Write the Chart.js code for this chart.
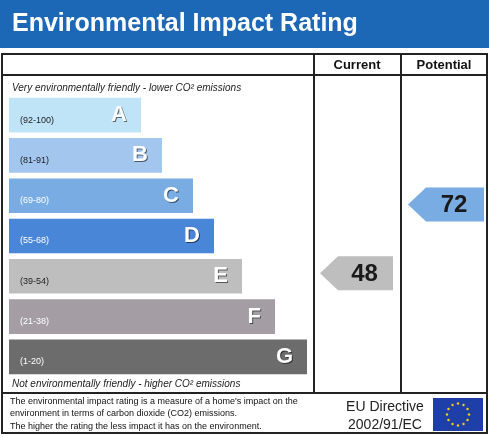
<!DOCTYPE html>
<html><head><meta charset="utf-8">
<script src="https://cdn.jsdelivr.net/npm/chart.js@4"></script>
<style>html,body{margin:0;padding:0;background:#fff}#c{display:block}</style>
</head><body>
<div style="width:489px;height:437px"><canvas id="c" width="489" height="437"></canvas></div>
<script>
const bands = ['A','B','C','D','E','F','G'];
const ranges = ['(92-100)','(81-91)','(69-80)','(55-68)','(39-54)','(21-38)','(1-20)'];
const rangeLow = [92,81,69,55,39,21,1];
const rangeHigh = [100,91,80,68,54,38,20];
const bandLengths = [132,153,184,205,233,266,298];
const colors = ['#bfe4f8','#a2c6ee','#79ace3','#4a86d8','#bebebe','#a49ea4','#6c6c6c'];
const rangeColors = ['#222','#222','#fff','#fff','#222','#fff','#fff'];
const currentRating = 48;
const potentialRating = 72;
const title = 'Environmental Impact Rating';

function bandOf(v){return rangeLow.findIndex((lo,i)=>v>=lo&&v<=rangeHigh[i]);}

const deco = {
  id:'deco',
  beforeDraw(ch){
    const c=ch.ctx;
    c.save();
    c.fillStyle='#fff';c.fillRect(0,0,489,437);
    c.fillStyle='#1d68b6';c.fillRect(0,0,489,48);
    c.fillStyle='#fff';c.font='bold 25px "Liberation Sans", Arial';c.textBaseline='middle';
    c.fillText(title,12,24);
    c.strokeStyle='#222';c.lineWidth=2;
    c.strokeRect(2,54,485,379);
    c.beginPath();
    c.moveTo(2,75);c.lineTo(487,75);
    c.moveTo(2,393);c.lineTo(487,393);
    c.moveTo(314,54);c.lineTo(314,393);
    c.moveTo(401,54);c.lineTo(401,393);
    c.stroke();
    c.fillStyle='#111';c.font='bold 13px "Liberation Sans", Arial';c.textAlign='center';
    c.fillText('Current',357,65);c.fillText('Potential',444,65);
    c.textAlign='left';c.font='italic 10px "Liberation Sans", Arial';c.fillStyle='#222';
    c.fillText('Very environmentally friendly - lower CO\u00b2 emissions',12,88);
    c.fillText('Not environmentally friendly - higher CO\u00b2 emissions',12,384);
    c.font='9px "Liberation Sans", Arial';c.fillStyle='#111';
    c.fillText("The environmental impact rating is a measure of a home's impact on the",10,402);
    c.fillText('environment in terms of carbon dioxide (CO2) emissions.',10,414);
    c.fillText('The higher the rating the less impact it has on the environment.',10,427);
    c.font='14px "Liberation Sans", Arial';c.fillStyle='#222';c.textAlign='center';
    c.fillText('EU Directive',385,407);c.fillText('2002/91/EC',385,425);
    c.fillStyle='#1f3fa8';c.fillRect(433,398,50,33);
    c.fillStyle='#f5d200';
    for(let i=0;i<12;i++){const a=i*Math.PI/6;c.beginPath();c.arc(458+Math.cos(a)*11,414.5+Math.sin(a)*11,1.2,0,7);c.fill();}
    c.restore();
  },
  afterDatasetsDraw(ch){
    const c=ch.ctx, meta=ch.getDatasetMeta(0), ys=ch.scales.y;
    c.save();c.textBaseline='middle';
    meta.data.forEach((b,i)=>{
      c.font='9px "Liberation Sans", Arial';c.fillStyle=rangeColors[i];c.textAlign='left';
      c.fillText(ranges[i],20,b.y+5);
      c.font='bold 22px "Liberation Sans", Arial';c.textAlign='right';
      c.fillStyle='rgba(0,0,0,0.55)';c.fillText(bands[i],b.x-13,b.y+1);
      c.fillStyle='#fff';c.fillText(bands[i],b.x-14,b.y);
    });
    function arrow(x0,x1,v,col){
      const i=bandOf(v);
      const pos=i+(rangeHigh[i]-v)/(rangeHigh[i]-rangeLow[i]+1)-0.5+0.05;
      const y=ys.getPixelForValue(pos), h=17;
      c.fillStyle=col;c.beginPath();
      c.moveTo(x0,y);c.lineTo(x0+18,y-h);c.lineTo(x1,y-h);c.lineTo(x1,y+h);c.lineTo(x0+18,y+h);c.closePath();c.fill();
      c.fillStyle='#1a1a1a';c.font='bold 24px "Liberation Sans", Arial';c.textAlign='center';
      c.fillText(String(v),(x0+x1)/2+8,y+1);
    }
    arrow(320,393,currentRating,colors[bandOf(currentRating)]);
    arrow(408,484,potentialRating,colors[bandOf(potentialRating)]);
    c.restore();
  }
};

new Chart(document.getElementById('c'),{
  type:'bar',
  data:{labels:bands,datasets:[{data:bandLengths,backgroundColor:colors,borderWidth:0,barPercentage:0.86,categoryPercentage:1}]},
  options:{
    indexAxis:'y',responsive:false,animation:false,
    layout:{padding:{left:9,right:182,top:95,bottom:60}},
    scales:{x:{display:false,min:0,max:298},y:{display:false}},
    plugins:{legend:{display:false},tooltip:{enabled:false}}
  },
  plugins:[deco]
});
</script>
</body></html>
